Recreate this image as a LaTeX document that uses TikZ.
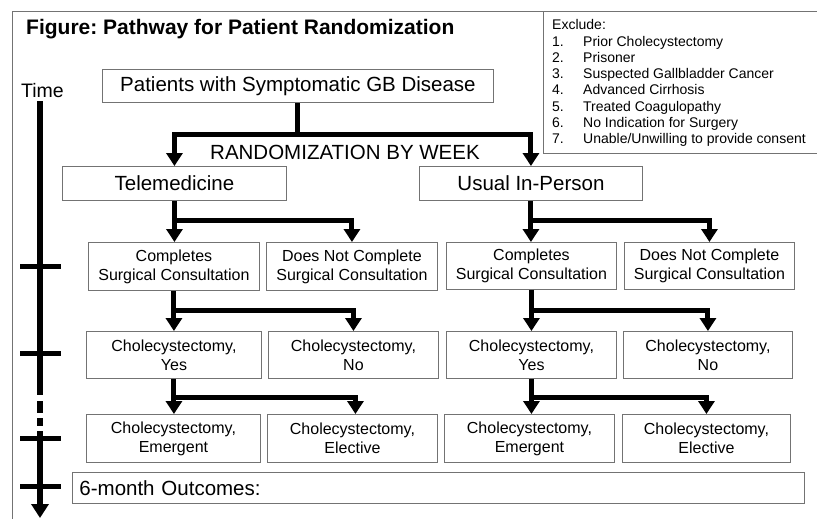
\documentclass[tikz,border=0pt]{standalone}
\usepackage{fontspec}
\setmainfont{Liberation Sans}
\usetikzlibrary{arrows.meta}
\frenchspacing
\begin{document}
\begin{tikzpicture}[x=1pt,y=-1pt,
  box/.style={draw=black!55, line width=0.9pt, inner sep=0pt, align=center, anchor=north west},
  big/.style={font=\fontsize{20.5}{24}\selectfont},
  small/.style={font=\fontsize{16}{19}\selectfont},
  ex/.style={anchor=base west, inner sep=0, font=\fontsize{14}{16}\selectfont},
  conn/.style={line width=5pt, -{Triangle[width=16pt,length=13pt]}},
  connline/.style={line width=5pt},
  tl/.style={line width=5.5pt},
  frame/.style={draw=black!55, line width=0.9pt}]
\useasboundingbox (0,0) rectangle (817,519);
\begin{scope}
\clip (0,0) rectangle (817,519);
\draw[frame] (12,540) -- (12,11) -- (830,11);
\draw[frame] (830,153) -- (543,153) -- (543,11);
\end{scope}
% title
\node[anchor=base west, font=\fontsize{21}{25}\selectfont\bfseries, inner sep=0] (title) at (26,35) {Figure: Pathway for Patient Randomization};
% exclusion list
\node[ex] (exhead) at (552,30) {Exclude:};
\node[ex] (exn1) at (552,46.2) {1.};  \node[ex] (ext1) at (583,46.2) {Prior Cholecystectomy};
\node[ex] (exn2) at (552,62.4) {2.};  \node[ex] (ext2) at (583,62.4) {Prisoner};
\node[ex] (exn3) at (552,78.6) {3.};  \node[ex] (ext3) at (583,78.6) {Suspected Gallbladder Cancer};
\node[ex] (exn4) at (552,94.8) {4.};  \node[ex] (ext4) at (583,94.8) {Advanced Cirrhosis};
\node[ex] (exn5) at (552,111) {5.};   \node[ex] (ext5) at (583,111) {Treated Coagulopathy};
\node[ex] (exn6) at (552,127.2) {6.}; \node[ex] (ext6) at (583,127.2) {No Indication for Surgery};
\node[ex] (exn7) at (552,143.4) {7.}; \node[ex] (ext7) at (583,143.4) {Unable/Unwilling to provide consent};
% time axis
\node[anchor=base west, inner sep=0, font=\fontsize{19.5}{24}\selectfont] (time) at (21,97) {Time};
\draw[tl] (40,101) -- (40,395);
\draw[tl] (40,401) -- (40,413);
\draw[tl] (40,418) -- (40,426);
\draw[tl, -{Triangle[width=17pt,length=14pt]}] (40,431) -- (40,518);
\foreach \yy in {266,353,438,486}{\draw[line width=5pt] (20,\yy) -- (61,\yy);}
% boxes
\node[box, big, minimum width=391pt, minimum height=33pt] (pat) at (102,69) {Patients with Symptomatic GB Disease};
\node[anchor=base west, inner sep=0, big] (rand) at (210,159) {RANDOMIZATION BY WEEK};
\node[box, big, minimum width=224pt, minimum height=34pt] (tele) at (62,166) {Telemedicine};
\node[box, big, minimum width=223pt, minimum height=34pt] (usual) at (419,166) {Usual In-Person};
\node[box, small, minimum width=171pt, minimum height=48pt] (cL) at (88,242) {Completes\\Surgical Consultation};
\node[box, small, minimum width=171pt, minimum height=48pt] (nL) at (266,242) {Does Not Complete\\Surgical Consultation};
\node[box, small, minimum width=170pt, minimum height=47pt] (cR) at (446,242) {Completes\\Surgical Consultation};
\node[box, small, minimum width=170pt, minimum height=47pt] (nR) at (624,242) {Does Not Complete\\Surgical Consultation};
\node[box, small, minimum width=175pt, minimum height=47pt] (yL) at (86,331) {Cholecystectomy,\\Yes};
\node[box, small, minimum width=170pt, minimum height=47pt] (noL) at (268,331) {Cholecystectomy,\\No};
\node[box, small, minimum width=170pt, minimum height=47pt] (yR) at (446,331) {Cholecystectomy,\\Yes};
\node[box, small, minimum width=169pt, minimum height=47pt] (noR) at (623,331) {Cholecystectomy,\\No};
\node[box, small, minimum width=174pt, minimum height=48pt] (eL) at (86,414) {Cholecystectomy,\\Emergent};
\node[box, small, minimum width=170pt, minimum height=48pt] (elL) at (267,414) {Cholecystectomy,\\Elective};
\node[box, small, minimum width=170pt, minimum height=48pt] (eR) at (444,414) {Cholecystectomy,\\Emergent};
\node[box, small, minimum width=168pt, minimum height=48pt] (elR) at (622,414) {Cholecystectomy,\\Elective};
\node[box, big, minimum width=732pt, minimum height=31pt, text width=718pt, align=left, inner xsep=7pt] (out) at (72,472) {6-month Outcomes:};
% connectors
\coordinate (j0) at (pat.south |- 0,134);
\draw[connline] (pat.south) -- (j0);
\draw[conn] (j0) -| (tele.north);
\draw[conn] (j0) -| (usual.north);
\coordinate (j1) at (tele.south |- 0,220);
\draw[conn] (tele.south) -- (tele.south |- cL.north);
\draw[conn] (j1) -| (nL.north);
\coordinate (j2) at (usual.south |- 0,220);
\draw[conn] (usual.south) -- (usual.south |- cR.north);
\draw[conn] (j2) -| (nR.north);
\coordinate (j3) at (cL.south |- 0,310);
\draw[conn] (cL.south) -- (cL.south |- yL.north);
\draw[conn] (j3) -| (noL.north);
\coordinate (j4) at (cR.south |- 0,310);
\draw[conn] (cR.south) -- (cR.south |- yR.north);
\draw[conn] (j4) -| (noR.north);
\coordinate (j5) at (yL.south |- 0,397);
\draw[conn] (yL.south) -- (yL.south |- eL.north);
\draw[conn] (j5) -| ([xshift=3pt]elL.north);
\coordinate (j6) at (yR.south |- 0,397);
\draw[conn] (yR.south) -- (yR.south |- eR.north);
\draw[conn] (j6) -| (elR.north);
\end{tikzpicture}
\end{document}
